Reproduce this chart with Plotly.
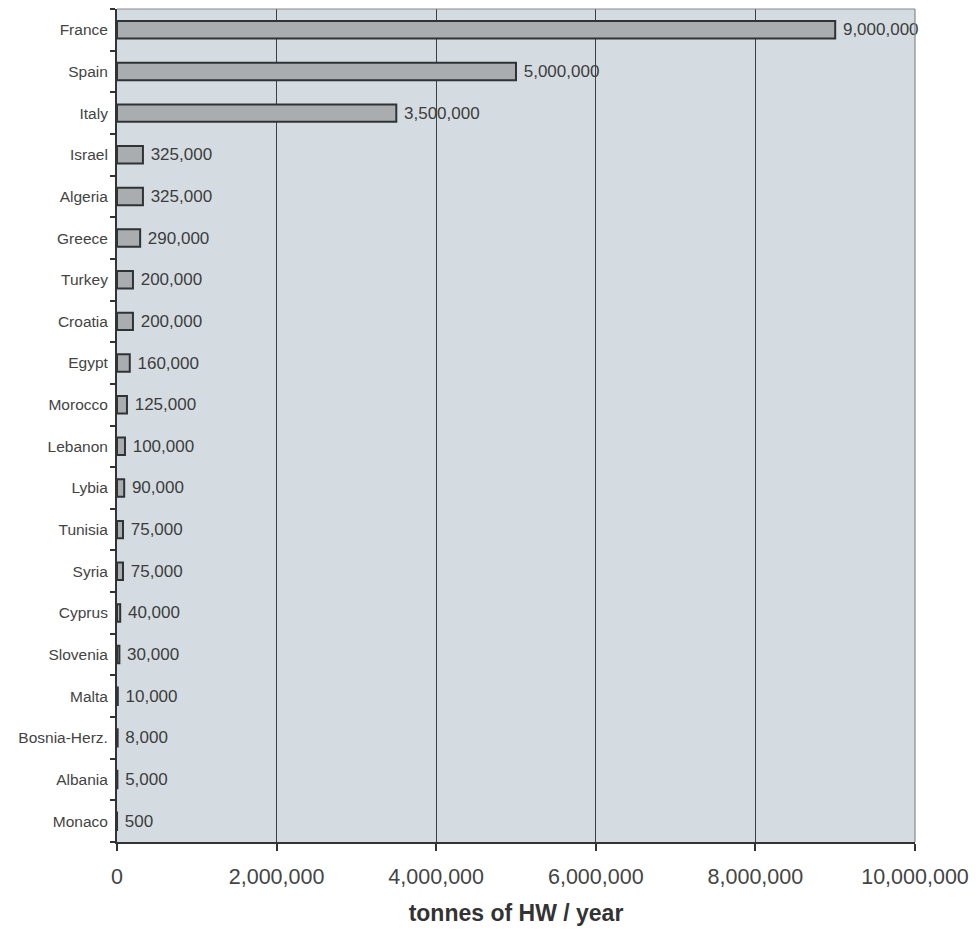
import plotly.graph_objects as go

countries = ["France", "Spain", "Italy", "Israel", "Algeria", "Greece", "Turkey", "Croatia",
             "Egypt", "Morocco", "Lebanon", "Lybia", "Tunisia", "Syria", "Cyprus", "Slovenia",
             "Malta", "Bosnia-Herz.", "Albania", "Monaco"]
values = [9000000, 5000000, 3500000, 325000, 325000, 290000, 200000, 200000,
          160000, 125000, 100000, 90000, 75000, 75000, 40000, 30000,
          10000, 8000, 5000, 500]
x_ticks = [0, 2000000, 4000000, 6000000, 8000000, 10000000]
x_tick_labels = ["0", "2,000,000", "4,000,000", "6,000,000", "8,000,000", "10,000,000"]

fig = go.Figure(go.Bar(
    x=values, y=countries, orientation="h",
    marker=dict(color="#a9adaf", line=dict(color="#2f3336", width=2)),
    text=["\u00a0" + f"{v:,}" for v in values], textposition="outside",
    textfont=dict(family="Liberation Sans, Arial", size=17, color="#3c3c3c"),
    constraintext="none",
    cliponaxis=False, width=0.42,
))

fig.update_layout(
    width=976, height=950,
    margin=dict(l=117, r=61, t=9, b=108),
    paper_bgcolor="white", plot_bgcolor="#d5dce1",
    showlegend=False,
    font=dict(family="Liberation Sans, Arial", color="#333"),
    xaxis=dict(range=[0, 10000000], tickvals=x_ticks, ticktext=x_tick_labels,
               showgrid=True, gridcolor="#3c4044", gridwidth=1.2,
               ticks="outside", ticklen=7, tickcolor="#333", tickwidth=1.5,
               tickfont=dict(size=21.5, color="#444"), ticklabelstandoff=7,
               showline=True, linecolor="#333", linewidth=2, mirror=False,
               zeroline=False, automargin=False,
               title=dict(text="<b>tonnes of HW / year</b>", font=dict(size=23, color="#333"), standoff=17)),
    yaxis=dict(categoryorder="array", categoryarray=countries[::-1],
               ticks="outside", tickson="boundaries", ticklen=5, tickcolor="#333", tickwidth=1.5,
               tickfont=dict(size=15.5, color="#444"), ticklabelstandoff=4,
               showline=True, linecolor="#333", linewidth=2, showgrid=False,
               automargin=False, range=[-0.5, 19.5]),
    shapes=[dict(type="line", xref="paper", yref="paper", x0=0, x1=1, y0=1, y1=1,
                 line=dict(color="#888", width=1.2)),
            dict(type="line", xref="paper", yref="paper", x0=1, x1=1, y0=0, y1=1,
                 line=dict(color="#888", width=1.2))],
)

fig.write_html("out.html")
